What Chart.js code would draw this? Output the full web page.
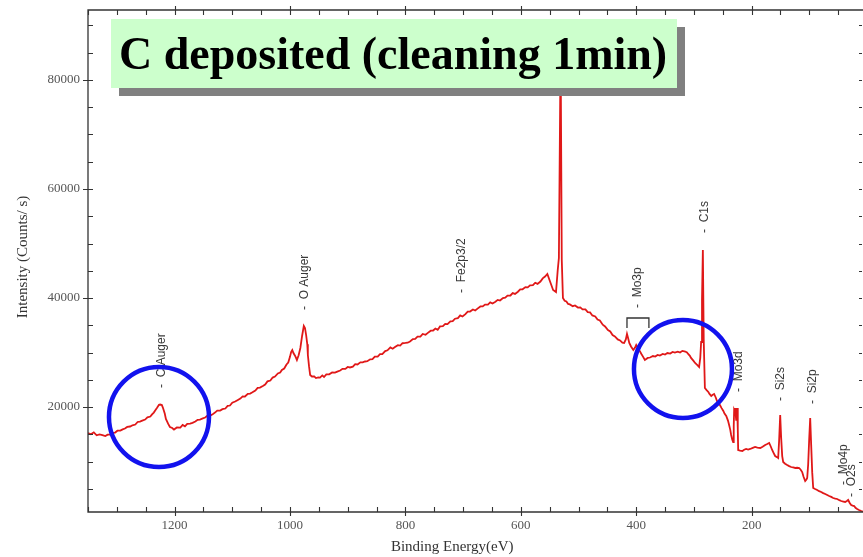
<!DOCTYPE html>
<html>
<head>
<meta charset="utf-8">
<script src="https://cdn.jsdelivr.net/npm/chart.js@4.4.1/dist/chart.umd.min.js"></script>
<style>
  html, body { margin: 0; padding: 0; background: #fff; overflow: hidden; }
  #wrap { position: relative; width: 863px; height: 557px; }
  #title {
    position: absolute; left: 111px; top: 19px; width: 566px; height: 69px;
    background: #ccffcc; box-shadow: 8px 8px 0 #808080;
    font: bold 46px "Liberation Serif", serif; color: #000;
    line-height: 69px; padding-left: 8px; box-sizing: border-box; white-space: nowrap;
  }
</style>
</head>
<body>
<div id="wrap">
  <canvas id="c" width="863" height="557"></canvas>
  <div id="title">C deposited (cleaning 1min)</div>
</div>
<script>
// XPS survey spectrum: binding energy (eV) and intensity (counts/s)
const bindingEnergy = [
  1350,1345,1340,1335,1330,1325,1320,1316,1312,1308,
  1303,1299,1294,1290,1286,1282,1277,1273,1268,1264,
  1260,1256,1251,1247,1242,1239,1236,1233,1230,1227,
  1225,1222,1220,1217,1215,1211,1208,1204,1201,1196,
  1190,1186,1182,1178,1173,1169,1164,1160,1156,1151,
  1147,1143,1138,1134,1130,1126,1121,1117,1112,1108,
  1104,1100,1095,1091,1086,1082,1078,1073,1069,1065,
  1060,1056,1052,1047,1043,1039,1034,1030,1026,1021,
  1017,1014,1010,1006,1003,1000,998,996,994,991,
  988,985,982,979,976,974,972,970,969,967,
  965,962,958,955,951,948,944,941,937,932,
  927,922,918,913,909,904,900,896,891,887,
  883,878,874,870,866,861,857,853,848,844,
  840,835,831,826,822,818,813,809,805,800,
  796,792,787,783,779,774,770,765,761,756,
  752,748,744,740,735,731,727,722,718,714,
  709,705,701,696,692,688,683,679,675,670,
  666,662,657,653,649,644,640,636,631,627,
  623,618,614,610,605,601,597,592,588,584,
  579,575,571,566,562,558,554,549,544,539,
  536,534,531,529,527,524,521,518,515,510,
  506,501,497,493,488,484,480,476,471,467,
  463,458,454,449,445,441,437,432,428,424,
  421,418,416,414,412,409,405,402,400,397,
  394,391,388,385,380,376,371,367,363,359,
  354,350,346,341,337,333,328,324,320,315,
  312,310,307,305,301,298,294,291,289,287.5,
  286,284.5,283,281,278,275,273,270,268,265,
  262,260,257,255,252,249,247,244,241,239,
  237,235.5,233.5,232,231,230.3,229,228.5,227.5,226.8,
  226,225.1,224,223.3,220,216,213,209.5,206,202.5,
  198,194,190,185,181,176.5,173,169.6,167,164.4,
  162,159.2,156,154,152.3,150.5,148.8,147,145.3,142,
  138.4,135,131.5,128,124.5,121,117.6,115,112.4,110,
  107.2,105,103.7,102,100.3,98.5,96.8,95,93.3,90,
  86.4,83,79.5,76,72.5,69,65.6,62,58.7,55,
  51.7,48,44.8,41,37.9,35,32.7,30,27.5,25,
  22.3,20,17.1,14,10,7
];
const intensity = [
  15230,15000,15350,14800,14960,14850,14680,14920,14950,15250,
  15310,15650,15680,15900,16050,16350,16420,16650,16780,17250,
  17330,17500,17700,18100,18250,18650,18980,19450,19900,20400,
  20450,20350,19820,18800,17800,16900,16330,16150,15860,16250,
  16230,16700,16450,16900,16960,17100,17330,17650,17700,17900,
  18070,18400,18430,18650,18980,19350,19350,19600,19720,20200,
  20270,20800,21000,21250,21550,21950,21920,22400,22470,22700,
  23020,23500,23570,23850,24120,24700,24850,25400,25590,26150,
  26320,26800,27060,27800,28160,29200,30090,30460,29900,29360,
  28630,29500,30830,33030,34870,34500,33210,31500,29540,27500,
  25870,25600,25610,25300,25420,25400,25790,25500,25970,26000,
  26340,26300,26500,26690,27000,27000,27350,27250,27400,27850,
  27800,28200,28200,28350,28400,28750,28800,29250,29250,29700,
  29700,30250,30400,30930,30700,31000,31350,31280,31700,31750,
  31800,32010,32450,32500,32900,32930,33400,33250,33600,34000,
  34030,34400,34150,34780,34850,35250,35200,35700,35750,36200,
  36300,36800,36600,37050,37500,37520,37900,37700,38050,38450,
  38450,38800,38800,39190,39000,39300,39650,39540,40000,40050,
  40450,40460,40900,40750,41150,41570,41600,42000,41950,42310,
  42350,42800,42600,43020,43600,43940,44410,42940,41470,41100,
  45140,47340,86000,46980,40010,39500,39370,38900,38820,38500,
  38640,38250,38270,37900,37900,37400,37350,36800,36620,36050,
  35880,35100,34780,34100,33860,33200,32950,32400,32210,31800,
  31750,32400,33400,32600,31750,31100,30460,30900,31380,30830,
  30300,29730,29200,28630,29000,29080,29350,29260,29550,29440,
  29750,29630,29900,29810,30100,29990,30150,29990,30300,30180,
  30000,29730,29400,29000,28500,28080,27700,27340,29000,31930,
  39640,48810,32300,23490,23100,22750,22400,22020,22200,22390,
  21700,21100,20700,20370,19800,19270,18800,18350,17500,16700,
  15800,14860,14000,13580,16500,19450,19100,19820,18500,17620,
  18900,19820,16000,12110,12000,11930,12150,12300,12200,12300,
  12500,12660,12550,12480,12700,13030,13200,13400,12800,12110,
  11600,11010,10800,10640,13950,18530,14310,11000,9910,9600,
  9360,9150,8990,8900,8810,8850,8810,8500,8070,7200,
  6420,6700,6970,9500,13950,17980,13030,8000,5140,4950,
  4770,4550,4400,4200,4040,3850,3670,3500,3300,3200,
  3120,2900,2750,2650,2570,2750,2940,2400,2020,1900,
  1830,1500,1280,1100,920,800
];

// Peak assignments: name, energy (eV), intensity level of the marker dash
const peakNames    = ['C Auger', 'O Auger', 'Fe2p3/2', 'Mo3p', 'C1s', 'Mo3d', 'Si2s', 'Si2p', 'Mo4p', 'O2s'];
const peakEnergies = [1223, 974, 703, 397, 281, 222, 149, 95, 40, 26];
const peakLevels   = [23490, 37800, 40920, 38170, 51930, 22750, 21100, 20550, 5690, 3490];

// Mo3p doublet bracket: energy span and levels (top, leg ends)
const mo3pBracket = { from: 416, to: 378, top: 36330, foot: 34500 };

// Highlighted regions: centre energy, centre intensity
const circleEnergies = [1227, 319];
const circleLevels   = [18166, 26975];

const xTickLabels = [1200, 1000, 800, 600, 400, 200];
const yTickLabels = [20000, 40000, 60000, 80000];

const points = bindingEnergy.map((e, i) => ({ x: e, y: intensity[i] }));

const frameAndMarks = {
  id: 'frameAndMarks',
  afterDatasetsDraw(chart) {
    const { ctx, chartArea: a, scales: { x, y } } = chart;
    ctx.save();
    // frame: left, bottom and top edges (right edge lies at the canvas border)
    ctx.strokeStyle = '#333';
    ctx.lineWidth = 1.3;
    ctx.beginPath();
    ctx.moveTo(a.right, a.top); ctx.lineTo(a.left, a.top);
    ctx.lineTo(a.left, a.bottom); ctx.lineTo(a.right, a.bottom);
    ctx.stroke();
    // x tick marks (bottom and top)
    ctx.lineWidth = 1.1;
    for (let e = 50; e <= 1350; e += 50) {
      const px = Math.round(x.getPixelForValue(e)) + 0.5;
      if (px < a.left || px > a.right) continue;
      const major = xTickLabels.includes(e);
      ctx.beginPath();
      ctx.moveTo(px, a.bottom + (major ? 4 : 0));
      ctx.lineTo(px, a.bottom - 5);
      ctx.moveTo(px, a.top - (major ? 4 : 0));
      ctx.lineTo(px, a.top + 5);
      ctx.stroke();
    }
    // y tick marks (left and right)
    for (let v = 5000; v <= 90000; v += 5000) {
      const py = Math.round(y.getPixelForValue(v)) + 0.5;
      const major = yTickLabels.includes(v);
      ctx.beginPath();
      ctx.moveTo(a.left - (major ? 5 : 0), py);
      ctx.lineTo(a.left + 5, py);
      ctx.moveTo(a.right - 4, py);
      ctx.lineTo(a.right - 1, py);
      ctx.stroke();
    }
    // axis titles
    ctx.fillStyle = '#333';
    ctx.font = '15px "Liberation Serif", serif';
    ctx.textAlign = 'center';
    ctx.textBaseline = 'middle';
    ctx.fillText('Binding Energy(eV)', a.left + (a.right - a.left) * 0.47, 547);
    ctx.save();
    ctx.translate(23, (a.top + a.bottom) / 2 - 4);
    ctx.rotate(-Math.PI / 2);
    ctx.fillText('Intensity (Counts/ s)', 0, 0);
    ctx.restore();
    // peak labels
    ctx.fillStyle = '#3a3a3a';
    ctx.font = '12px "Liberation Sans", Arial, sans-serif';
    ctx.textAlign = 'left';
    peakNames.forEach((name, i) => {
      ctx.save();
      ctx.translate(x.getPixelForValue(peakEnergies[i]), y.getPixelForValue(peakLevels[i]));
      ctx.rotate(-Math.PI / 2);
      ctx.fillText('-  ' + name, 0, 0);
      ctx.restore();
    });
    // Mo3p bracket
    const bx1 = x.getPixelForValue(mo3pBracket.from), bx2 = x.getPixelForValue(mo3pBracket.to);
    const by1 = y.getPixelForValue(mo3pBracket.top), by2 = y.getPixelForValue(mo3pBracket.foot);
    ctx.strokeStyle = '#333';
    ctx.lineWidth = 1.3;
    ctx.beginPath();
    ctx.moveTo(bx1, by2); ctx.lineTo(bx1, by1); ctx.lineTo(bx2, by1); ctx.lineTo(bx2, by2);
    ctx.stroke();
    // highlight circles
    ctx.strokeStyle = '#1212ee';
    ctx.lineWidth = 4.5;
    const radii = [50, 49];
    circleEnergies.forEach((e, i) => {
      ctx.beginPath();
      ctx.arc(x.getPixelForValue(e), y.getPixelForValue(circleLevels[i]), radii[i], 0, Math.PI * 2);
      ctx.stroke();
    });
    ctx.restore();
  }
};

new Chart(document.getElementById('c'), {
  type: 'line',
  data: {
    datasets: [{
      data: points,
      borderColor: '#e01818',
      borderWidth: 1.8,
      pointRadius: 0,
      tension: 0,
      fill: false
    }]
  },
  options: {
    responsive: false,
    animation: false,
    devicePixelRatio: 1,
    layout: { padding: { top: 10, right: 0, left: 0, bottom: 0 } },
    plugins: { legend: { display: false }, tooltip: { enabled: false }, title: { display: false } },
    scales: {
      x: {
        type: 'linear',
        reverse: true,
        min: 7,
        max: 1350,
        grid: { display: false, drawTicks: false },
        border: { display: false },
        afterFit: s => { s.height = 45; s.paddingLeft = 0; s.paddingRight = 0; },
        afterBuildTicks: s => { s.ticks = xTickLabels.map(v => ({ value: v })); },
        ticks: {
          autoSkip: false,
          maxRotation: 0,
          padding: 6,
          color: '#555',
          font: { family: '"Liberation Serif", serif', size: 13 },
          callback: v => String(v)
        }
      },
      y: {
        type: 'linear',
        min: 734,
        max: 92844,
        grid: { display: false, drawTicks: false },
        border: { display: false },
        afterFit: s => { s.width = 88; s.paddingTop = 0; s.paddingBottom = 0; },
        afterBuildTicks: s => { s.ticks = yTickLabels.map(v => ({ value: v })); },
        ticks: {
          autoSkip: false,
          padding: 8,
          color: '#555',
          font: { family: '"Liberation Serif", serif', size: 13 },
          callback: v => String(v)
        }
      }
    }
  },
  plugins: [frameAndMarks]
});
</script>
</body>
</html>
